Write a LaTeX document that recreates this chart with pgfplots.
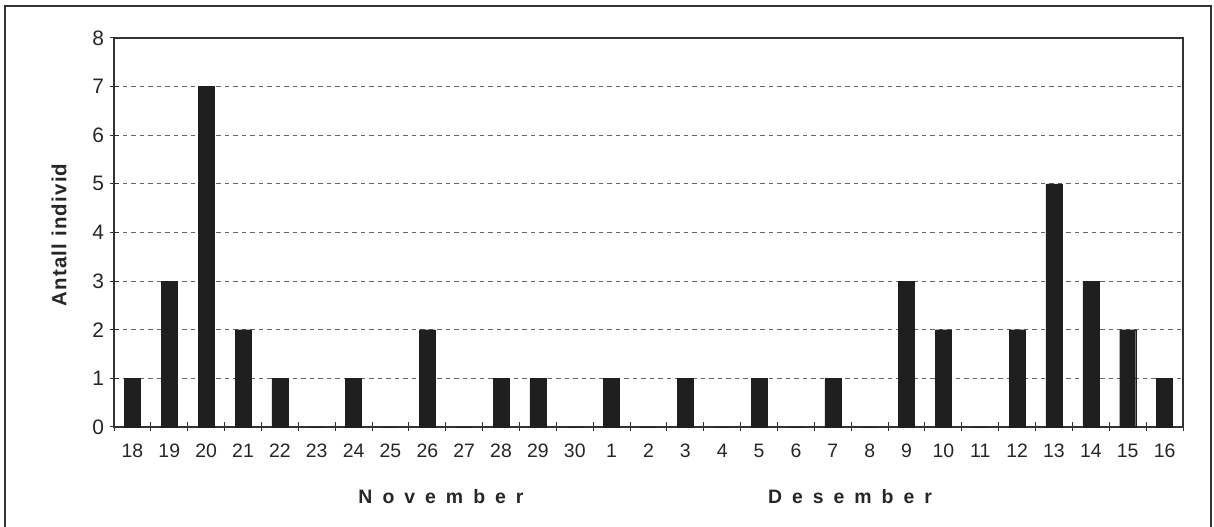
\documentclass[border=0pt]{standalone}
\usepackage{fontspec}
\setmainfont{Liberation Sans}
\usepackage{pgfplots}
\pgfplotsset{compat=1.18}

\begin{document}
\begin{tikzpicture}[x=1bp,y=1bp]
% page size = reference size in px
\useasboundingbox (0,0) rectangle (1214,527);
% outer frame (bottom edge falls outside the image)
\draw[line width=1.4bp,black!80] (5,-5) -- (5,521) -- (1211,521) -- (1211,-5);

\begin{axis}[
    at={(114bp,100bp)}, anchor=south west,
    scale only axis,
    width=1069bp, height=389bp,
    ymin=0, ymax=8,
    xmin=-0.5, xmax=28.5,
    ytick={0,1,...,8},
    xtick={0,1,...,28},
    xticklabels={18,19,20,21,22,23,24,25,26,27,28,29,30,1,2,3,4,5,6,7,8,9,10,11,12,13,14,15,16},
    minor xtick={-0.5,0.5,...,28.5},
    major x tick style={draw=none},
    tick align=center,
    xtick pos=bottom, ytick pos=left,
    major tick length=9bp, minor tick length=9bp,
    tick style={black!80, line width=1bp},
    axis line style={black!80, line width=1.4bp},
    ymajorgrids,
    grid style={dash pattern=on 4.5bp off 4bp, black!60, line width=0.9bp},
    /pgf/number format/assume math mode=true,
    xticklabel style={font=\fontsize{19.5}{20}\selectfont, text=black!85, yshift=-9bp},
    yticklabel style={font=\fontsize{21}{22}\selectfont, text=black!85, xshift=-2bp},
    clip=false,
]
\addplot[ybar, bar width=16bp, fill=black!88, draw=black!88] coordinates {
 (0,1) (1,3) (2,7) (3,2) (4,1) (5,0) (6,1) (7,0) (8,2) (9,0)
 (10,1) (11,1) (12,0) (13,1) (14,0) (15,1) (16,0) (17,1) (18,0) (19,1)
 (20,0) (21,3) (22,2) (23,0) (24,2) (25,5) (26,3) (27,2) (28,1)
};
\end{axis}

\node[rotate=90, font=\fontsize{20.5}{22}\selectfont\bfseries\addfontfeature{LetterSpace=6}, text=black!85] at (59,292) {Antall individ};
\node[font=\fontsize{19.5}{20}\selectfont\bfseries, text=black!85] at (441,30)
  {N\hspace{10bp}o\hspace{10bp}v\hspace{10bp}e\hspace{10bp}m\hspace{10bp}b\hspace{10bp}e\hspace{10bp}r};
\node[font=\fontsize{19.5}{20}\selectfont\bfseries, text=black!85] at (850,30)
  {D\hspace{10bp}e\hspace{10bp}s\hspace{10bp}e\hspace{10bp}m\hspace{10bp}b\hspace{10bp}e\hspace{10bp}r};
\end{tikzpicture}
\end{document}
